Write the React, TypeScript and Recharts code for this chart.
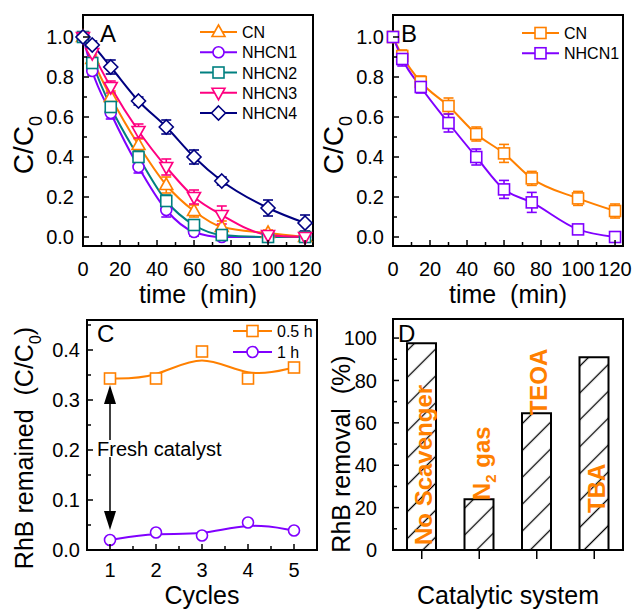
import React from 'react';
import {
  LineChart, Line, XAxis, YAxis, ErrorBar, ReferenceArea, ReferenceLine, ReferenceDot,
  Legend, BarChart, Bar, LabelList,
} from 'recharts';

const FONT = '"Liberation Sans", Arial, Helvetica, sans-serif';
const ORANGE = '#FF8000';
const VIOLET = '#8000FF';
const TEAL = '#008080';
const PINK = '#FF0080';
const NAVY = '#000080';

// panel A - all catalysts
const timeA = [0, 5, 15, 30, 45, 60, 75, 100, 120];
const cnA = [1.0, 0.89, 0.70, 0.46, 0.26, 0.13, 0.05, 0.02, 0.0];
const cnAErr = [0, 0.02, 0.03, 0.03, 0.04, 0.03, 0.03, 0.015, 0.005];
const nh1A = [1.0, 0.83, 0.62, 0.35, 0.135, 0.025, 0.0, 0.0, 0.0];
const nh1AErr = [0, 0.02, 0.03, 0.03, 0.035, 0.02, 0.01, 0.005, 0.005];
const nh2A = [1.0, 0.87, 0.65, 0.40, 0.18, 0.06, 0.01, 0.0, 0.0];
const nh2AErr = [0, 0.02, 0.03, 0.03, 0.03, 0.02, 0.01, 0.005, 0.005];
const nh3A = [1.0, 0.92, 0.75, 0.53, 0.35, 0.20, 0.11, 0.01, 0.0];
const nh3AErr = [0, 0.02, 0.03, 0.035, 0.04, 0.035, 0.045, 0.01, 0.005];
const nh4A = [1.0, 0.96, 0.85, 0.68, 0.55, 0.40, 0.28, 0.145, 0.07];
const nh4AErr = [0, 0.02, 0.035, 0.02, 0.035, 0.035, 0.02, 0.04, 0.04];

// panel B - CN vs NHCN1
const timeB = [0, 5, 15, 30, 45, 60, 75, 100, 120];
const cnB = [1.0, 0.905, 0.775, 0.655, 0.515, 0.418, 0.293, 0.193, 0.13];
const cnBErr = [0, 0.03, 0.03, 0.04, 0.035, 0.045, 0.035, 0.035, 0.035];
const nh1B = [1.0, 0.89, 0.75, 0.57, 0.40, 0.238, 0.173, 0.038, 0.0];
const nh1BErr = [0, 0.035, 0.03, 0.045, 0.04, 0.045, 0.05, 0.01, 0.005];

// panel C - recycling
const cycles = [1, 2, 3, 4, 5];
const halfHour = [0.343, 0.343, 0.397, 0.343, 0.365];
const oneHour = [0.02, 0.035, 0.029, 0.055, 0.039];

// panel D - scavengers
const systems = ['No Scavenger', 'N2 gas', 'TEOA', 'TBA'];
const removal = [97.5, 24, 64.5, 91];

// ticks
const xMajorAB = [0, 20, 40, 60, 80, 100, 120];
const xMinorAB = [10, 30, 50, 70, 90, 110];
const yMajorAB = [0, 0.2, 0.4, 0.6, 0.8, 1.0];
const yMinorAB = [0.1, 0.3, 0.5, 0.7, 0.9];
const xMajorC = [1, 2, 3, 4, 5];
const xMinorC = [1.5, 2.5, 3.5, 4.5];
const yMajorC = [0, 0.1, 0.2, 0.3, 0.4];
const yMinorC = [0.05, 0.15, 0.25, 0.35, 0.45];
const yMajorD = [0, 20, 40, 60, 80, 100];
const yMinorD = [10, 30, 50, 70, 90];

const X_DOM_AB: [number, number] = [0, 124.3];
const Y_DOM_AB: [number, number] = [-0.045, 1.11];
const X_DOM_C: [number, number] = [0.5, 5.5];
const Y_DOM_C: [number, number] = [0, 0.46];
const Y_DOM_D: [number, number] = [0, 109];

const seriesA = [
  { key: 'cn', name: 'CN', color: ORANGE, shape: 'tri' },
  { key: 'nh1', name: 'NHCN1', color: VIOLET, shape: 'circle' },
  { key: 'nh2', name: 'NHCN2', color: TEAL, shape: 'square' },
  { key: 'nh3', name: 'NHCN3', color: PINK, shape: 'itri' },
  { key: 'nh4', name: 'NHCN4', color: NAVY, shape: 'diamond' },
];
const seriesB = [
  { key: 'cn', name: 'CN', color: ORANGE, shape: 'square' },
  { key: 'nh1', name: 'NHCN1', color: VIOLET, shape: 'square' },
];
const seriesC = [
  { key: 'half', name: '0.5 h', color: ORANGE, shape: 'square' },
  { key: 'one', name: '1 h', color: VIOLET, shape: 'circle' },
];

const dataA = timeA.map((t, i) => ({
  t,
  cn: cnA[i], cnErr: cnAErr[i],
  nh1: nh1A[i], nh1Err: nh1AErr[i],
  nh2: nh2A[i], nh2Err: nh2AErr[i],
  nh3: nh3A[i], nh3Err: nh3AErr[i],
  nh4: nh4A[i], nh4Err: nh4AErr[i],
}));
const dataB = timeB.map((t, i) => ({ t, cn: cnB[i], cnErr: cnBErr[i], nh1: nh1B[i], nh1Err: nh1BErr[i] }));
const dataC = cycles.map((c, i) => ({ c, half: halfHour[i], one: oneHour[i] }));
const dataD = systems.map((name, i) => ({ name, removal: removal[i] }));

const Marker = ({ shape, cx, cy, color }: any) => {
  const sw = 1.6;
  if (shape === 'tri')
    return <polygon points={`${cx},${cy - 7} ${cx - 6.5},${cy + 4.5} ${cx + 6.5},${cy + 4.5}`} fill="#fff" stroke={color} strokeWidth={sw} />;
  if (shape === 'itri')
    return <polygon points={`${cx},${cy + 7} ${cx - 6.5},${cy - 4.5} ${cx + 6.5},${cy - 4.5}`} fill="#fff" stroke={color} strokeWidth={sw} />;
  if (shape === 'circle') return <circle cx={cx} cy={cy} r={5.5} fill="#fff" stroke={color} strokeWidth={sw} />;
  if (shape === 'diamond')
    return <polygon points={`${cx},${cy - 7} ${cx + 7},${cy} ${cx},${cy + 7} ${cx - 7},${cy}`} fill="#fff" stroke={color} strokeWidth={sw} />;
  return <rect x={cx - 5.5} y={cy - 5.5} width={11} height={11} fill="#fff" stroke={color} strokeWidth={sw} />;
};

const dotFor = (id: string, shape: string, color: string) => (p: any) => (
  <g key={`${id}-${p.index}`}>
    <Marker shape={shape} cx={p.cx} cy={p.cy} color={color} />
  </g>
);

const TICK_FONT = 20;

const makeYTick = (majors: number[], fmt: (v: number) => string, gap: number) => (props: any) => {
  const { x, y, payload } = props;
  const v = payload.value;
  const major = majors.some((m) => Math.abs(m - v) < 1e-9);
  return (
    <g>
      <line x1={x} x2={x + (major ? 6 : 4)} y1={y} y2={y} stroke="#000" strokeWidth={1.5} />
      {major && (
        <text x={x - gap} y={y} dy="0.36em" textAnchor="end" fontSize={TICK_FONT} fontFamily={FONT} fill="#000">
          {fmt(v)}
        </text>
      )}
    </g>
  );
};

const makeXTick = (majors: number[], fmt: (v: number) => string, labelDy: number) => (props: any) => {
  const { x, y, payload } = props;
  const v = payload.value;
  const major = majors.some((m) => Math.abs(m - v) < 1e-9);
  return (
    <g>
      <line x1={x} x2={x} y1={y} y2={y - (major ? 6 : 4)} stroke="#000" strokeWidth={1.5} />
      {major && (
        <text x={x} y={y + labelDy} textAnchor="middle" fontSize={TICK_FONT} fontFamily={FONT} fill="#000">
          {fmt(v)}
        </text>
      )}
    </g>
  );
};

const catTick = (props: any) => (
  <line x1={props.x} x2={props.x} y1={props.y} y2={props.y + 9} stroke="#000" strokeWidth={1.5} />
);

const titleStyle = { fontSize: 25, fontFamily: FONT, fill: '#000', whiteSpace: 'pre' as const };

const yTitleCC = (bx: number, cy: number, pre: string, post: string, size: number) => (props: any) => {
  const vb = props.viewBox;
  const x = vb.x + bx;
  const y = vb.y + cy;
  const sub = Math.round(size * 0.65);
  return (
    <text x={x} y={y} textAnchor="middle" transform={`rotate(-90 ${x} ${y})`} style={{ ...titleStyle, fontSize: size }}>
      {pre}
      <tspan fontSize={sub} dy={size * 0.32}>0</tspan>
      {post ? <tspan dy={-size * 0.32}>{post}</tspan> : null}
    </text>
  );
};

const yTitlePlain = (bx: number, cy: number, text: string) => (props: any) => {
  const vb = props.viewBox;
  const x = vb.x + bx;
  const y = vb.y + cy;
  return (
    <text x={x} y={y} textAnchor="middle" transform={`rotate(-90 ${x} ${y})`} style={titleStyle}>
      {text}
    </text>
  );
};

const makeLegend = (series: any[], step: number, lineLen: number, w: number) => () => (
  <svg width={w} height={10 + series.length * step} style={{ display: 'block', overflow: 'visible' }}>
    {series.map((s, i) => {
      const y = 10 + i * step;
      return (
        <g key={s.key}>
          <line x1={0} x2={lineLen} y1={y} y2={y} stroke={s.color} strokeWidth={2} />
          <Marker shape={s.shape} cx={lineLen / 2} cy={y} color={s.color} />
          <text x={lineLen + 5} y={y + 6} fontSize={16} fontFamily={FONT} fill="#000">
            {s.name}
          </text>
        </g>
      );
    })}
  </svg>
);

const axisLine = { stroke: '#000', strokeWidth: 2 };
const fmt1 = (v: number) => v.toFixed(1);
const fmt0 = (v: number) => String(Math.round(v));

const PanelAB = ({ data, series, legendPos }: any) => (
  <LineChart width={322} height={311} data={data} margin={{ top: 15, right: 9, left: 23, bottom: 25 }}>
    <ReferenceArea y1={Y_DOM_AB[0]} y2={Y_DOM_AB[1]} fill="none" stroke="#000" strokeWidth={2} ifOverflow="visible" />
    <XAxis
      type="number" dataKey="t" domain={X_DOM_AB} ticks={[...xMajorAB, ...xMinorAB].sort((a, b) => a - b)}
      interval={0} tickSize={0} tickMargin={0} tickLine={false} axisLine={axisLine} height={40}
      tick={makeXTick(xMajorAB, fmt0, 29.5)}
    />
    <YAxis
      type="number" domain={Y_DOM_AB} ticks={[...yMajorAB, ...yMinorAB].sort((a, b) => a - b)}
      interval={0} tickSize={0} tickMargin={0} tickLine={false} axisLine={axisLine} width={60}
      tick={makeYTick(yMajorAB, fmt1, 9)} label={yTitleCC(10, 130, 'C/C', '', 28)}
    />
    {series.map((s: any) => (
      <Line
        key={s.key} type="monotone" dataKey={s.key} stroke={s.color} strokeWidth={2}
        dot={dotFor(s.key, s.shape, s.color)} activeDot={false} isAnimationActive={false}
      >
        <ErrorBar dataKey={`${s.key}Err`} width={5} stroke={s.color} strokeWidth={1.6} direction="y" />
      </Line>
    ))}
    <Legend
      layout="vertical" align="center" verticalAlign="middle"
      wrapperStyle={{ left: legendPos[0], top: legendPos[1], width: 120 }}
      content={makeLegend(series, 20.25, 37, 120)}
    />
  </LineChart>
);

const arrowShape = (p: any) => {
  const { x1, y1, x2, y2 } = p;
  const dir = y2 < y1 ? -1 : 1;
  const base = y2 - dir * 19;
  return (
    <g>
      <line x1={x1} y1={y1} x2={x2} y2={base} stroke="#000" strokeWidth={1.5} />
      <polygon points={`${x2},${y2} ${x2 - 6},${base} ${x2 + 6},${base}`} fill="#000" />
    </g>
  );
};

const freshLabel = (props: any) => {
  const vb = props.viewBox;
  return (
    <text x={vb.x - 13} y={vb.y + 6} fontSize={20} fontFamily={FONT} fill="#000">
      Fresh catalyst
    </text>
  );
};

const PanelC = () => (
  <LineChart width={320} height={311} data={dataC} margin={{ top: 20, right: 3, left: 27, bottom: 21 }}>
    <ReferenceArea y1={Y_DOM_C[0]} y2={Y_DOM_C[1]} fill="none" stroke="#000" strokeWidth={2} ifOverflow="visible" />
    <XAxis
      type="number" dataKey="c" domain={X_DOM_C} ticks={[...xMajorC, ...xMinorC].sort((a, b) => a - b)}
      interval={0} tickSize={0} tickMargin={0} tickLine={false} axisLine={axisLine} height={40}
      tick={makeXTick(xMajorC, fmt0, 27)}
    />
    <YAxis
      type="number" domain={Y_DOM_C} ticks={[...yMajorC, ...yMinorC].sort((a, b) => a - b)}
      interval={0} tickSize={0} tickMargin={0} tickLine={false} axisLine={axisLine} width={60}
      tick={makeYTick(yMajorC, fmt1, 7)} label={yTitleCC(6, 128, 'RhB remained  (C/C', ')', 25)}
    />
    <ReferenceLine segment={[{ x: 1, y: 0.22 }, { x: 1, y: 0.33 }]} shape={arrowShape} />
    <ReferenceLine segment={[{ x: 1, y: 0.186 }, { x: 1, y: 0.04 }]} shape={arrowShape} />
    <ReferenceDot x={1} y={0.2} r={0} fill="none" stroke="none" label={freshLabel} />
    {seriesC.map((s) => (
      <Line
        key={s.key} type="basis" dataKey={s.key} stroke={s.color} strokeWidth={2}
        dot={dotFor(s.key, s.shape, s.color)} activeDot={false} isAnimationActive={false}
      />
    ))}
    <Legend
      layout="vertical" align="center" verticalAlign="middle"
      wrapperStyle={{ left: 233, top: 21, width: 90 }}
      content={makeLegend(seriesC, 21, 39, 90)}
    />
  </LineChart>
);

// where each scavenger label sits relative to its bar
const barLabelPlace = [
  { from: 'bottom', off: 5 },
  { from: 'top', off: -1 },
  { from: 'top', off: -2 },
  { from: 'bottom', off: 37 },
];

const barLabel = (props: any) => {
  const vb = props.viewBox ?? props;
  const name = String(props.value);
  const idx = systems.indexOf(name);
  const place = barLabelPlace[idx] ?? { from: 'top', off: 0 };
  const cx = vb.x + vb.width / 2 + 2;
  const start = place.from === 'bottom' ? vb.y + vb.height - place.off : vb.y - place.off;
  const m = name.match(/^([A-Za-z]+)(\d)(.*)$/);
  return (
    <text
      x={cx} y={start} dy="0.36em" transform={`rotate(-90 ${cx} ${start})`}
      fontSize={24} fontWeight="bold" fontFamily={FONT} fill={ORANGE} style={{ whiteSpace: 'pre' }}
    >
      {m ? (
        <>
          {m[1]}
          <tspan fontSize={15} dy={6}>{m[2]}</tspan>
          <tspan dy={-6}>{m[3]}</tspan>
        </>
      ) : (
        name
      )}
    </text>
  );
};

const PanelD = () => (
  <BarChart width={322} height={311} data={dataD} margin={{ top: 19, right: 9, left: 23, bottom: 21 }}>
    <ReferenceArea y1={Y_DOM_D[0]} y2={Y_DOM_D[1]} fill="none" stroke="#000" strokeWidth={2} ifOverflow="visible" />
    <XAxis
      type="category" dataKey="name" interval={0} tickSize={0} tickMargin={0} tickLine={false}
      axisLine={axisLine} height={40} tick={catTick}
    />
    <YAxis
      type="number" domain={Y_DOM_D} ticks={[...yMajorD, ...yMinorD].sort((a, b) => a - b)}
      interval={0} tickSize={0} tickMargin={0} tickLine={false} axisLine={axisLine} width={60}
      tick={makeYTick(yMajorD, fmt0, 16)} label={yTitlePlain(17, 135, 'RhB removal  (%)')}
    />
    <Bar dataKey="removal" barSize={29} fill="url(#hatch)" stroke="#000" strokeWidth={2} isAnimationActive={false}>
      <LabelList dataKey="name" content={barLabel} />
    </Bar>
  </BarChart>
);

const letterStyle = { fontSize: 24, fontFamily: FONT, fill: '#000' };

export default function App() {
  return (
    <div style={{ position: 'absolute', left: 0, top: 0, width: 632, height: 611, background: '#fff' }}>
      <svg width={0} height={0} style={{ position: 'absolute' }}>
        <defs>
          <pattern id="hatch" patternUnits="userSpaceOnUse" width={19} height={19} patternTransform="rotate(45)">
            <rect width={19} height={19} fill="#fff" />
            <line x1={9.5} y1={0} x2={9.5} y2={19} stroke="#000" strokeWidth={1.3} />
          </pattern>
        </defs>
      </svg>
      <div style={{ position: 'absolute', left: 0, top: 0 }}>
        <PanelAB data={dataA} series={seriesA} legendPos={[200, 22]} />
      </div>
      <div style={{ position: 'absolute', left: 310, top: 0 }}>
        <PanelAB data={dataB} series={seriesB} legendPos={[212, 23]} />
      </div>
      <div style={{ position: 'absolute', left: 0, top: 300 }}>
        <PanelC />
      </div>
      <div style={{ position: 'absolute', left: 310, top: 300 }}>
        <PanelD />
      </div>
      <svg width={632} height={611} style={{ position: 'absolute', left: 0, top: 0, pointerEvents: 'none' }}>
        <text x={100} y={42} style={letterStyle}>A</text>
        <text x={401} y={42} style={letterStyle}>B</text>
        <text x={97} y={342} style={letterStyle}>C</text>
        <text x={398} y={342} style={letterStyle}>D</text>
        <text x={198} y={303} textAnchor="middle" style={titleStyle}>time  (min)</text>
        <text x={508} y={303} textAnchor="middle" style={titleStyle}>time  (min)</text>
        <text x={202} y={604} textAnchor="middle" style={titleStyle}>Cycles</text>
        <text x={508} y={604} textAnchor="middle" style={titleStyle}>Catalytic system</text>
      </svg>
    </div>
  );
}
